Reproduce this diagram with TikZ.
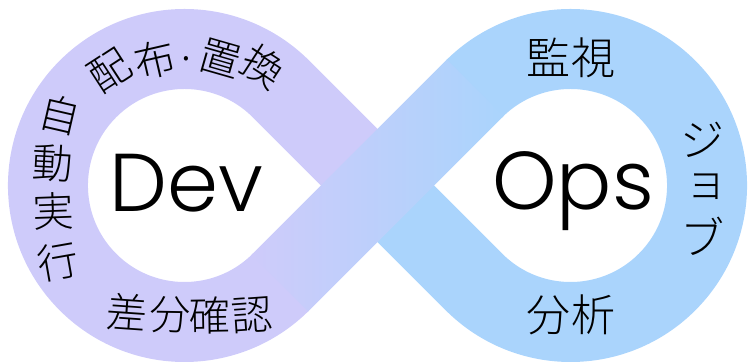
\documentclass[tikz,border=0pt]{standalone}
\usepackage{fontspec}
\setmainfont{Noto Sans CJK JP Light}
\newfontfamily\latfont{Poppins Light}
\begin{document}
\begin{tikzpicture}[x=1pt,y=1pt,
  jp/.style={inner sep=0pt, font=\fontsize{41}{41}\selectfont},
  jpl/.style={inner sep=0pt, font=\fontsize{44}{44}\selectfont},
  big/.style={inner sep=0pt, anchor=base, font=\latfont\fontsize{82}{82}\selectfont}]
\definecolor{devc}{RGB}{206,203,250}
\definecolor{opsc}{RGB}{170,212,252}
\useasboundingbox (0,0) rectangle (750,363);
\coordinate (M) at (377.5,177.5);
\coordinate (L) at (184.46,177.5);
\coordinate (R) at (570.54,177.5);
% left loop (with back band half)
\draw[devc, line width=80pt] (M) -- ([shift={(45:136.5)}]L) arc[start angle=45, end angle=315, radius=136.5];
% right loop (with back band half)
\draw[opsc, line width=80pt] (M) -- ([shift={(225:136.5)}]R) arc[start angle=225, end angle=495, radius=136.5];
% front band with gradient
\begin{scope}[shift={(M)}, rotate=45]
  \shade[left color=devc, right color=opsc] (-138,-40) rectangle (138,40);
\end{scope}
% centre labels
\node[big] (dev) at (186,151) {Dev};
\node[big] (ops) at (573,153) {Ops};
% Dev side texts
\node[jp, rotate=33]  (c1) at (110,292) {配};
\node[jp, rotate=13]  (c2) at (155,303) {布};
\node[jp]             (c3) at (187,298) {·};
\node[jp, rotate=-16] (c4) at (220,304) {置};
\node[jp, rotate=-33] (c5) at (263,296) {換};
\node[jp, rotate=-13] (a1) at (60,248) {自};
\node[jp, rotate=-3]  (a2) at (53,200) {動};
\node[jp, rotate=2]   (a3) at (53,152) {実};
\node[jp, rotate=10]  (a4) at (58,101) {行};
\node[jp, rotate=-4]  (d1) at (127,51) {差};
\node[jp, rotate=-1]  (d2) at (170,48) {分};
\node[jp, rotate=1]   (d3) at (210,47) {確};
\node[jp, rotate=4]   (d4) at (252,48) {認};
% Ops side texts
\node[jpl] (m1) at (548,305.5) {監};
\node[jpl] (m2) at (593,305.5) {視};
\node[jpl] (j1) at (702,223) {ジ};
\node[jpl] (j2) at (706,176) {ョ};
\node[jpl] (j3) at (702,127) {ブ};
\node[jpl] (b1) at (548,48) {分};
\node[jpl] (b2) at (593,48) {析};
\end{tikzpicture}
\end{document}
